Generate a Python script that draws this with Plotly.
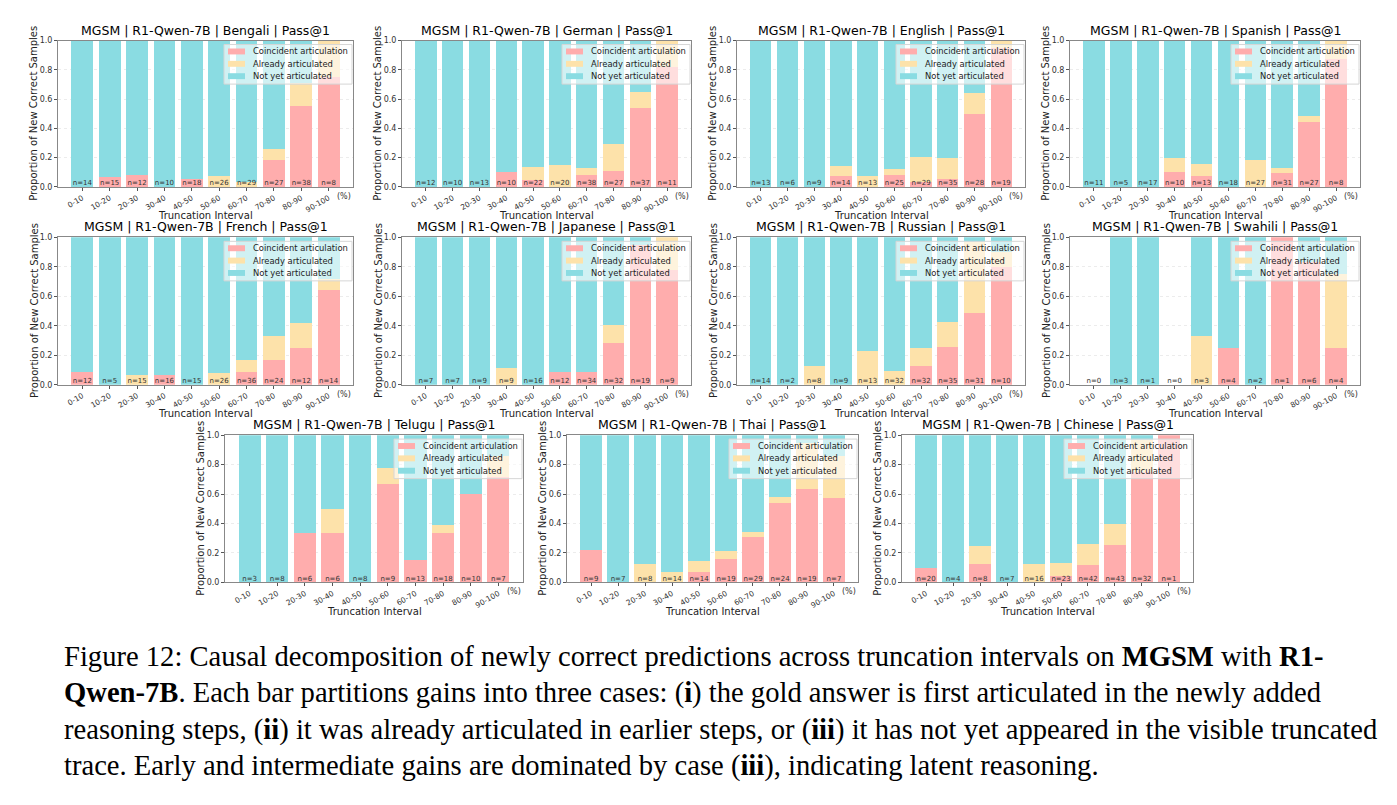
import plotly.graph_objects as go

# ---------------- data ----------------
categories = ["0-10", "10-20", "20-30", "30-40", "40-50", "50-60", "60-70", "70-80", "80-90", "90-100"]

n_bengali = [14, 15, 12, 10, 18, 26, 29, 27, 38, 8]
co_bengali = [0, 1, 1, 0, 1, 0, 0, 5, 21, 6]
al_bengali = [0, 0, 0, 0, 0, 2, 1, 2, 6, 2]

n_german = [12, 10, 13, 10, 22, 20, 38, 27, 37, 11]
co_german = [0, 0, 0, 1, 1, 0, 3, 3, 20, 9]
al_german = [0, 0, 0, 0, 2, 3, 2, 5, 4, 2]

n_english = [13, 6, 9, 14, 13, 25, 29, 35, 28, 19]
co_english = [0, 0, 0, 1, 0, 2, 1, 2, 14, 18]
al_english = [0, 0, 0, 1, 1, 1, 5, 5, 4, 1]

n_spanish = [11, 5, 17, 10, 13, 18, 27, 31, 27, 8]
co_spanish = [0, 0, 0, 1, 1, 0, 0, 3, 12, 7]
al_spanish = [0, 0, 0, 1, 1, 0, 5, 1, 1, 1]

n_french = [12, 5, 15, 16, 15, 26, 36, 24, 12, 14]
co_french = [1, 0, 0, 1, 0, 0, 3, 4, 3, 9]
al_french = [0, 0, 1, 0, 0, 2, 3, 4, 2, 1]

n_japanese = [7, 7, 9, 9, 16, 12, 34, 32, 19, 9]
co_japanese = [0, 0, 0, 0, 0, 1, 3, 9, 18, 7]
al_japanese = [0, 0, 0, 1, 0, 0, 0, 4, 0, 2]

n_russian = [14, 2, 8, 9, 13, 32, 32, 35, 31, 10]
co_russian = [0, 0, 0, 0, 0, 0, 4, 9, 15, 8]
al_russian = [0, 0, 1, 0, 3, 3, 4, 6, 15, 1]

n_swahili = [0, 3, 1, 0, 3, 4, 2, 1, 6, 4]
co_swahili = [0, 0, 0, 0, 0, 1, 0, 1, 5, 1]
al_swahili = [0, 0, 0, 0, 1, 0, 0, 0, 0, 2]

n_telugu = [3, 8, 6, 6, 8, 9, 13, 18, 10, 7]
co_telugu = [0, 0, 2, 2, 0, 6, 2, 6, 6, 5]
al_telugu = [0, 0, 0, 1, 0, 1, 0, 1, 0, 1]

n_thai = [9, 7, 8, 14, 14, 19, 29, 24, 19, 7]
co_thai = [2, 0, 0, 0, 1, 3, 9, 13, 12, 4]
al_thai = [0, 0, 1, 1, 1, 1, 1, 1, 6, 2]

n_chinese = [20, 4, 8, 7, 16, 23, 42, 43, 32, 1]
co_chinese = [2, 0, 1, 0, 0, 1, 5, 11, 24, 1]
al_chinese = [0, 0, 1, 0, 2, 2, 6, 6, 7, 0]

series_names = ["Coincident articulation", "Already articulated", "Not yet articulated"]

caption_lines = [
    "Figure 12: Causal decomposition of newly correct predictions across truncation intervals on <b>MGSM</b> with <b>R1-</b>",
    "<b>Qwen-7B</b>. Each bar partitions gains into three cases: (<b>i</b>) the gold answer is first articulated in the newly added",
    "reasoning steps, (<b>ii</b>) it was already articulated in earlier steps, or (<b>iii</b>) it has not yet appeared in the visible truncated",
    "trace. Early and intermediate gains are dominated by case (<b>iii</b>), indicating latent reasoning.",
]

# ---------------- layout geometry (pixels) ----------------
W, H = 1397, 805
C_CO = "#FFADAD"
C_AL = "#FDE2AA"
C_NY = "#8ADCE2"
FONT = "DejaVu Sans"

panels = [
    ("Bengali", n_bengali, co_bengali, al_bengali, 58, 353, 37, 185),
    ("German", n_german, co_german, al_german, 402, 691, 37, 185),
    ("English", n_english, co_english, al_english, 737, 1025, 37, 185),
    ("Spanish", n_spanish, co_spanish, al_spanish, 1070, 1360, 37, 185),
    ("French", n_french, co_french, al_french, 58, 353, 236, 385),
    ("Japanese", n_japanese, co_japanese, al_japanese, 402, 691, 236, 385),
    ("Russian", n_russian, co_russian, al_russian, 737, 1025, 236, 385),
    ("Swahili", n_swahili, co_swahili, al_swahili, 1070, 1360, 236, 385),
    ("Telugu", n_telugu, co_telugu, al_telugu, 225, 523, 436, 585),
    ("Thai", n_thai, co_thai, al_thai, 567, 858, 436, 585),
    ("Chinese", n_chinese, co_chinese, al_chinese, 902, 1193, 436, 585),
]


def fx(p):
    return p / W


def fy(p):
    return 1 - p / H


fig = go.Figure()
annotations = []
shapes = []
layout = dict(
    width=W, height=H, margin=dict(l=0, r=0, t=0, b=0),
    paper_bgcolor="white", plot_bgcolor="white",
    barmode="stack", bargap=0.2, showlegend=False,
    font=dict(family=FONT, color="#222"),
)

for i, (lang, n, co, al, x0, x1, y0, y1) in enumerate(panels):
    sfx = "" if i == 0 else str(i + 1)
    xa, ya = "x" + sfx, "y" + sfx
    p_co = [c / t if t else 0 for c, t in zip(co, n)]
    p_al = [a / t if t else 0 for a, t in zip(al, n)]
    p_ny = [(t - c - a) / t if t else 0 for c, a, t in zip(co, al, n)]
    colors = [C_CO, C_AL, C_NY]
    for name, vals, col in zip(series_names, [p_co, p_al, p_ny], colors):
        fig.add_trace(go.Bar(
            x=categories, y=vals, name=name, marker=dict(color=col, line=dict(width=0)),
            width=0.8, xaxis=xa, yaxis=ya, hoverinfo="skip",
        ))
    fig.add_trace(go.Scatter(
        x=categories, y=[0] * len(categories), mode="text",
        text=[f"n={t}" for t in n], textposition="top center",
        textfont=dict(size=7, color="#333", family=FONT),
        xaxis=xa, yaxis=ya, hoverinfo="skip",
    ))
    layout["xaxis" + sfx] = dict(
        domain=[fx(x0), fx(x1)], anchor=ya, type="category",
        range=[-0.89, 9.89], tickangle=-30,
        tickfont=dict(size=7.5, color="#333"), ticks="outside", ticklen=3,
        tickcolor="#555", showline=True, linecolor="#888", linewidth=1, mirror=True,
        showgrid=False, zeroline=False,
    )
    layout["yaxis" + sfx] = dict(
        domain=[fy(y1), fy(y0)], anchor=xa, range=[0, 1],
        tickvals=[0, 0.2, 0.4, 0.6, 0.8, 1.0], tickformat=".1f",
        tickfont=dict(size=8, color="#333"), ticks="outside", ticklen=3, tickcolor="#555",
        showline=True, linecolor="#888", linewidth=1, mirror=True,
        showgrid=True, gridcolor="rgba(200,200,200,0.35)", griddash="dot", zeroline=False,
    )
    # title
    annotations.append(dict(
        text=f"MGSM | R1-Qwen-7B | {lang} | Pass@1", xref="paper", yref="paper",
        x=fx((x0 + x1) / 2), y=fy(y0 - 1), xanchor="center", yanchor="bottom",
        showarrow=False, font=dict(size=12.5, family=FONT, color="black"),
    ))
    # axis titles
    annotations.append(dict(
        text="Truncation Interval", xref="paper", yref="paper",
        x=fx((x0 + x1) / 2), y=fy(y1 + 29), xanchor="center", yanchor="middle",
        showarrow=False, font=dict(size=10, family=FONT, color="#222"),
    ))
    annotations.append(dict(
        text="Proportion of New Correct Samples", xref="paper", yref="paper",
        x=fx(x0 - 24), y=fy((y0 + y1) / 2), xanchor="center", yanchor="middle",
        textangle=-90, showarrow=False, font=dict(size=10, family=FONT, color="#222"),
    ))
    annotations.append(dict(
        text="(%)", xref="paper", yref="paper",
        x=fx(x1), y=fy(y1 + 3), xanchor="right", yanchor="top",
        showarrow=False, font=dict(size=8, family=FONT, color="#333"),
    ))
    # legend (drawn as a framed box inside the axes, top-right)
    lx1 = x1 - 1
    lx0 = lx1 - 128
    ly0 = y0 + 4
    ly1 = ly0 + 40
    shapes.append(dict(
        type="rect", xref="paper", yref="paper", x0=fx(lx0), x1=fx(lx1), y0=fy(ly1), y1=fy(ly0),
        fillcolor="rgba(255,255,255,0.6)", line=dict(color="#d6d6d6", width=1), layer="above",
    ))
    for k, (name, col) in enumerate(zip(series_names, colors)):
        cy = ly0 + 7 + 12.5 * k
        shapes.append(dict(
            type="rect", xref="paper", yref="paper", x0=fx(lx0 + 4), x1=fx(lx0 + 21),
            y0=fy(cy + 3), y1=fy(cy - 3), fillcolor=col, line=dict(width=0), layer="above",
        ))
        annotations.append(dict(
            text=name, xref="paper", yref="paper", x=fx(lx0 + 27), y=fy(cy),
            xanchor="left", yanchor="middle", showarrow=False,
            font=dict(size=8.4, family=FONT, color="#222"),
        ))

cap_y = [660, 697, 734, 771]
for line, yy in zip(caption_lines, cap_y):
    annotations.append(dict(
        text=line, xref="paper", yref="paper", x=fx(62), y=fy(yy),
        xanchor="left", yanchor="middle", showarrow=False,
        font=dict(size=28.6, family="Liberation Serif", color="black"),
    ))

layout["annotations"] = annotations
layout["shapes"] = shapes
fig.update_layout(**layout)
fig.write_html("out.html")
